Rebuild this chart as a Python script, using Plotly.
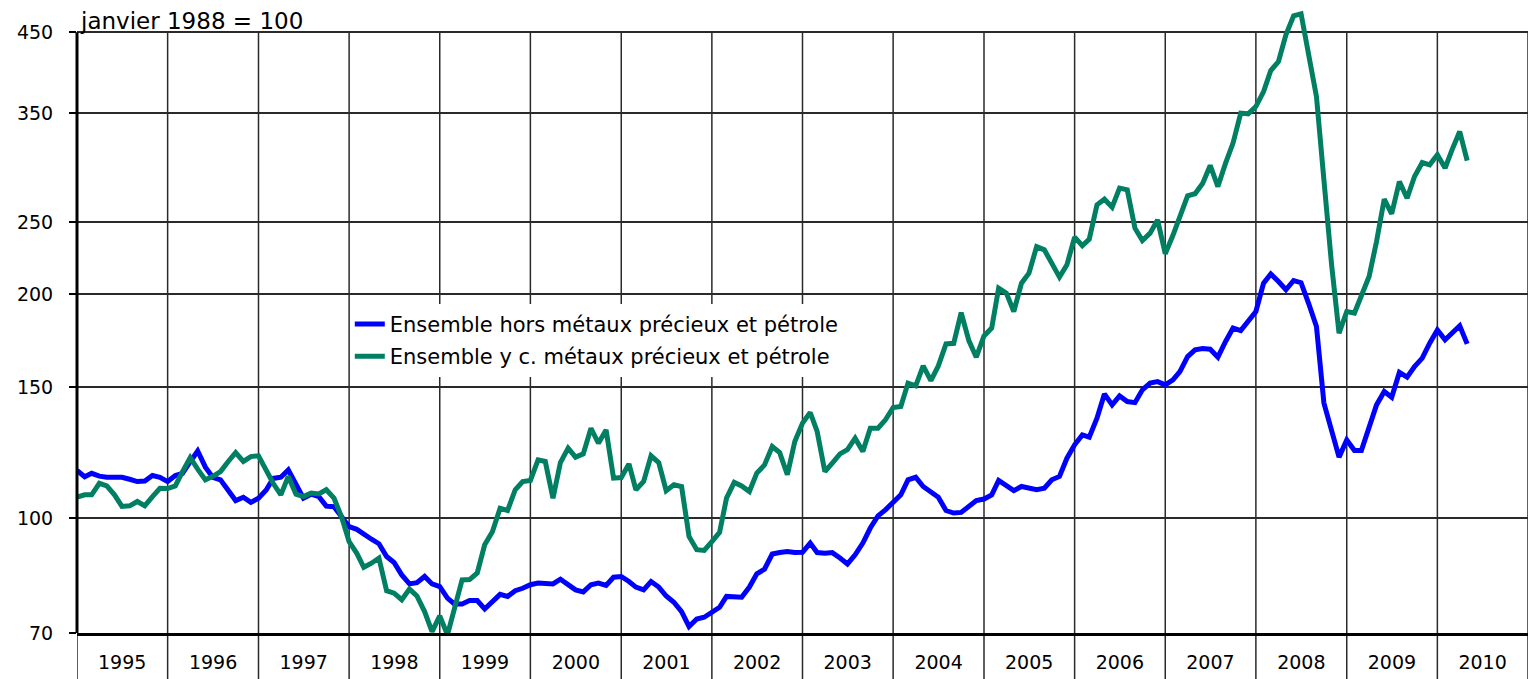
import math

import pandas as pd
import plotly.graph_objects as go

# monthly index values, janvier 1995 .. mai 2010 (janvier 1988 = 100)
hors_metaux = [
    115.8, 113.6, 114.8, 113.8, 113.4, 113.6, 113.4, 112.7, 111.9, 112.1, 114.0, 113.4,  # 1995
    111.9, 114.0, 114.8, 119.0, 123.0, 117.0, 113.4, 112.5, 109.0, 105.5, 106.6, 104.9,  # 1996
    106.3, 109.0, 113.0, 113.4, 116.0, 110.7, 106.3, 107.6, 106.8, 103.7, 103.5, 100.4,  # 1997
    97.3, 96.5, 95.0, 93.6, 92.3, 88.7, 87.1, 83.8, 81.5, 81.8, 83.4, 81.5,  # 1998
    80.8, 78.0, 76.6, 76.6, 77.4, 77.4, 75.4, 77.2, 78.9, 78.4, 79.8, 80.4,  # 1999
    81.3, 81.7, 81.7, 81.5, 82.7, 81.3, 80.0, 79.5, 81.3, 81.7, 81.1, 83.2,  # 2000
    83.4, 82.1, 80.7, 80.0, 82.1, 80.7, 78.5, 77.0, 74.8, 71.4, 73.1, 73.5,  # 2001
    74.8, 75.8, 78.4, 78.2, 78.2, 80.7, 84.1, 85.3, 89.4, 89.8, 90.1, 89.8,  # 2002
    89.9, 92.5, 89.8, 89.6, 89.8, 88.3, 86.7, 89.2, 92.5, 96.9, 100.6, 102.5,  # 2003
    104.7, 107.4, 112.5, 113.4, 110.2, 108.5, 106.6, 102.3, 101.5, 101.7, 103.6, 105.5,  # 2004
    106.0, 107.4, 112.3, 110.4, 108.8, 110.2, 109.6, 109.1, 109.6, 112.5, 113.7, 120.3,  # 2005
    125.4, 129.3, 128.4, 136.2, 146.8, 141.9, 145.9, 143.4, 142.9, 148.7, 151.8, 152.5,  # 2006
    151.0, 153.3, 157.3, 164.8, 168.3, 169.0, 168.6, 164.5, 172.7, 180.0, 178.6, 183.7,  # 2007
    189.5, 206.9, 212.9, 207.9, 202.7, 208.6, 207.2, 194.1, 180.9, 142.7, 131.3, 120.7,  # 2008
    127.3, 123.2, 123.2, 132.0, 141.9, 147.9, 145.3, 156.9, 154.6, 159.8, 164.0, 171.8,  # 2009
    179.0, 173.6, 177.2, 181.3, 171.4,  # 2010
]
y_compris = [
    106.6, 107.4, 107.4, 111.3, 110.4, 107.4, 103.6, 103.8, 105.2, 103.8, 106.8, 109.6,  # 1995
    109.5, 110.4, 115.4, 120.5, 116.3, 112.5, 113.7, 115.4, 119.1, 122.4, 119.1, 120.9,  # 1996
    121.2, 115.4, 111.3, 107.4, 113.7, 107.6, 106.8, 108.0, 107.7, 109.1, 106.3, 100.4,  # 1997
    92.9, 89.6, 85.8, 86.9, 88.3, 79.8, 79.2, 77.6, 80.2, 78.5, 74.8, 70.3,  # 1998
    73.8, 69.6, 76.0, 82.5, 82.6, 84.3, 92.0, 95.8, 103.0, 102.3, 109.1, 111.9,  # 1999
    112.3, 119.7, 119.1, 106.3, 118.7, 124.1, 120.7, 121.9, 132.0, 126.0, 131.3, 113.1,  # 2000
    113.3, 118.2, 109.1, 111.9, 121.2, 118.7, 108.8, 110.8, 110.2, 94.4, 90.6, 90.4,  # 2001
    92.9, 95.6, 106.3, 111.6, 110.4, 108.5, 114.9, 117.8, 124.7, 122.4, 114.3, 126.7,  # 2002
    134.1, 138.6, 130.7, 115.4, 118.5, 121.9, 123.5, 128.0, 122.8, 132.0, 132.0, 135.5,  # 2003
    140.7, 141.2, 151.8, 150.5, 160.1, 153.0, 160.1, 171.4, 171.7, 188.9, 173.2, 164.5,  # 2004
    175.7, 180.0, 203.7, 200.6, 189.5, 206.9, 213.4, 231.7, 229.4, 220.1, 210.8, 219.0,  # 2005
    238.6, 232.3, 237.1, 263.7, 268.4, 261.8, 277.7, 276.2, 245.3, 236.1, 241.6, 251.7,  # 2006
    226.6, 240.0, 254.0, 271.2, 272.9, 282.0, 297.9, 279.1, 300.1, 319.3, 350.4, 349.6,  # 2007
    357.6, 374.6, 399.8, 411.1, 446.6, 473.7, 476.6, 421.9, 368.8, 284.9, 219.0, 177.2,  # 2008
    189.5, 188.6, 198.5, 211.2, 235.4, 268.4, 256.5, 283.5, 269.2, 287.9, 300.6, 298.5,  # 2009
    307.9, 295.5, 312.7, 330.9, 302.5,  # 2010
]
months = pd.date_range("1995-01-01", periods=len(hors_metaux), freq="MS")

years = list(range(1995, 2011))
y_ticks = [70, 100, 150, 200, 250, 350, 450]

font_family = "Comic Sans MS, DejaVu Sans, sans-serif"
blue = "#0000ff"
green = "#007f62"
grid = "#2a2a2a"

y_min = math.log10(70)
y_max = y_min + 633 / 743.3


def to_paper(value):
    """Position of a log value on the paper (0..1)."""
    return (math.log10(value) - y_min) / (y_max - y_min)


fig = go.Figure()
fig.add_trace(
    go.Scatter(
        x=months,
        y=hors_metaux,
        mode="lines",
        name="Ensemble hors métaux précieux et pétrole",
        line=dict(color=blue, width=5),
        legendgroup="a",
    )
)
fig.add_trace(
    go.Scatter(
        x=months,
        y=y_compris,
        mode="lines",
        name="Ensemble y c. métaux précieux et pétrole",
        line=dict(color=green, width=5),
        legendgroup="b",
    )
)

# year separators, running down through the label band
shapes = []
for year in years + [2011]:
    shapes.append(
        dict(
            type="line",
            xref="x",
            yref="paper",
            x0=f"{year}-01-01",
            x1=f"{year}-01-01",
            y0=-46 / 633,
            y1=to_paper(450),
            line=dict(color=grid, width=1.5),
            layer="below",
        )
    )
# left axis, from 70 to 450 only
shapes.append(
    dict(
        type="line",
        xref="paper",
        yref="paper",
        x0=0,
        x1=0,
        y0=0,
        y1=to_paper(450),
        line=dict(color="black", width=3),
    )
)

fig.update_layout(
    width=1528,
    height=679,
    margin=dict(l=77, r=0, t=0, b=46),
    paper_bgcolor="white",
    plot_bgcolor="white",
    font=dict(family=font_family, size=20, color="black"),
    showlegend=True,
    legend=dict(
        x=0.188,
        y=0.52,
        xanchor="left",
        yanchor="top",
        bgcolor="white",
        borderwidth=0,
        font=dict(size=21),
        tracegroupgap=2,
    ),
    shapes=shapes,
    annotations=[
        dict(
            text="janvier 1988 = 100",
            xref="paper",
            yref="paper",
            x=0,
            y=1 - 21 / 633,
            xanchor="left",
            yanchor="middle",
            xshift=1,
            showarrow=False,
            font=dict(size=23),
        )
    ],
)
fig.update_xaxes(
    type="date",
    range=["1995-01-01", "2011-01-01"],
    automargin=False,
    showgrid=False,
    zeroline=False,
    tickvals=[f"{year}-07-02" for year in years],
    ticktext=[str(year) for year in years],
    ticks="",
    ticklabelstandoff=10,
    tickfont=dict(size=19),
    showline=True,
    linecolor="black",
    linewidth=3,
)
fig.update_yaxes(
    type="log",
    range=[y_min, y_max],
    automargin=False,
    tickvals=y_ticks,
    ticktext=[str(v) for v in y_ticks],
    showgrid=True,
    gridcolor=grid,
    gridwidth=1.5,
    zeroline=False,
    showline=False,
    ticks="outside",
    ticklen=7,
    tickwidth=1.5,
    tickcolor="black",
    ticklabelstandoff=12,
    tickfont=dict(size=19),
)

# the page's default body margin would push the chart 8px right and down
fig.write_html(
    "out.html",
    config={"displayModeBar": False},
    post_script="document.body.style.margin = '0';",
)
